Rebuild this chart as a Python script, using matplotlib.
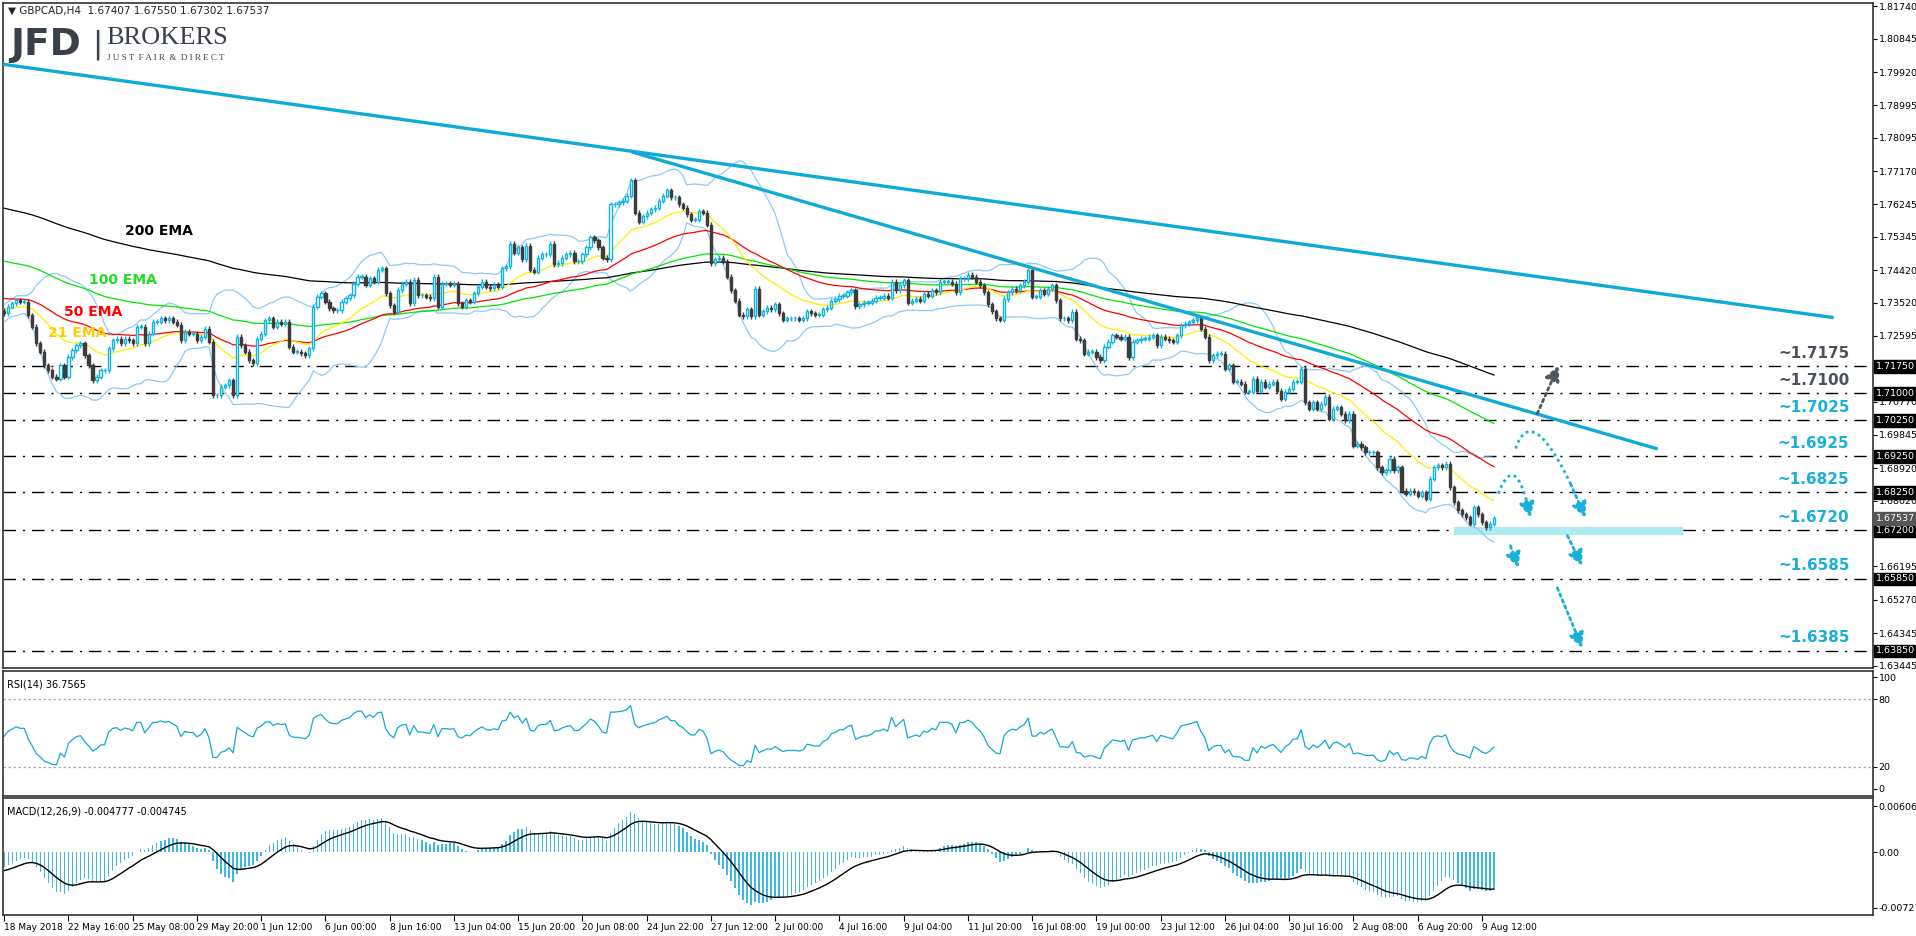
import numpy as np
import matplotlib.pyplot as plt

# GBPCAD H4 closes (one per bar)
closes = [
    1.7322, 1.7341, 1.7350, 1.7359, 1.7354, 1.7354, 1.7317, 1.7285, 1.7239, 1.7215,
    1.7178, 1.7164, 1.7146, 1.7141, 1.7178, 1.7146, 1.7201, 1.7220, 1.7234, 1.7239,
    1.7206, 1.7178, 1.7137, 1.7146, 1.7164, 1.7164, 1.7225, 1.7248, 1.7252, 1.7239,
    1.7252, 1.7248, 1.7239, 1.7285, 1.7285, 1.7239, 1.7266, 1.7299, 1.7299, 1.7308,
    1.7303, 1.7308, 1.7299, 1.7290, 1.7248, 1.7271, 1.7266, 1.7266, 1.7248, 1.7257,
    1.7280, 1.7243, 1.7095, 1.7095, 1.7118, 1.7123, 1.7137, 1.7095, 1.7257, 1.7234,
    1.7215, 1.7192, 1.7183, 1.7252, 1.7266, 1.7303, 1.7308, 1.7285, 1.7299, 1.7294,
    1.7299, 1.7229, 1.7215, 1.7215, 1.7211, 1.7206, 1.7225, 1.7341, 1.7368, 1.7378,
    1.7354, 1.7336, 1.7331, 1.7331, 1.7354, 1.7364, 1.7373, 1.7405, 1.7424, 1.7424,
    1.7401, 1.7419, 1.7410, 1.7443, 1.7447, 1.7378, 1.7345, 1.7327, 1.7387, 1.7405,
    1.7410, 1.7350, 1.7415, 1.7373, 1.7373, 1.7368, 1.7364, 1.7424, 1.7341, 1.7405,
    1.7405, 1.7401, 1.7405, 1.7350, 1.7341, 1.7359, 1.7354, 1.7378, 1.7396, 1.7410,
    1.7396, 1.7392, 1.7401, 1.7396, 1.7448, 1.7453, 1.7515, 1.7491, 1.7505, 1.7472,
    1.7510, 1.7443, 1.7438, 1.7477, 1.7486, 1.7486, 1.7515, 1.7458, 1.7462, 1.7477,
    1.7486, 1.7491, 1.7467, 1.7467, 1.7486, 1.7505, 1.7534, 1.7525, 1.7505, 1.7477,
    1.7472, 1.7625, 1.7625, 1.7630, 1.7635, 1.7649, 1.7692, 1.7601, 1.7577, 1.7592,
    1.7601, 1.7611, 1.7616, 1.7635, 1.7649, 1.7664, 1.7645, 1.7645, 1.7625, 1.7616,
    1.7597, 1.7582, 1.7582, 1.7606, 1.7601, 1.7568, 1.7462, 1.7472, 1.7477, 1.7467,
    1.7424, 1.7386, 1.7357, 1.7318, 1.7314, 1.7333, 1.7314, 1.7390, 1.7318, 1.7328,
    1.7338, 1.7333, 1.7347, 1.7323, 1.7304, 1.7309, 1.7309, 1.7309, 1.7304, 1.7309,
    1.7328, 1.7323, 1.7318, 1.7318, 1.7333, 1.7338, 1.7357, 1.7362, 1.7371, 1.7371,
    1.7381, 1.7386, 1.7342, 1.7347, 1.7352, 1.7352, 1.7357, 1.7366, 1.7366, 1.7371,
    1.7366, 1.7410, 1.7386, 1.7400, 1.7414, 1.7352, 1.7357, 1.7362, 1.7357, 1.7376,
    1.7371, 1.7386, 1.7381, 1.7410, 1.7410, 1.7410, 1.7405, 1.7381, 1.7419, 1.7419,
    1.7429, 1.7424, 1.7410, 1.7400, 1.7381, 1.7347, 1.7328, 1.7309, 1.7304, 1.7362,
    1.7381, 1.7390, 1.7386, 1.7400, 1.7410, 1.7442, 1.7368, 1.7368, 1.7386, 1.7377,
    1.7391, 1.7400, 1.7359, 1.7308, 1.7308, 1.7303, 1.7326, 1.7252, 1.7247, 1.7210,
    1.7215, 1.7215, 1.7201, 1.7192, 1.7229, 1.7243, 1.7261, 1.7257, 1.7252, 1.7257,
    1.7201, 1.7243, 1.7247, 1.7252, 1.7252, 1.7257, 1.7261, 1.7234, 1.7257, 1.7252,
    1.7247, 1.7243, 1.7261, 1.7289, 1.7294, 1.7298, 1.7303, 1.7308, 1.7280, 1.7257,
    1.7192, 1.7206, 1.7210, 1.7210, 1.7169, 1.7178, 1.7132, 1.7132, 1.7127, 1.7104,
    1.7104, 1.7141, 1.7108, 1.7132, 1.7118, 1.7127, 1.7132, 1.7108, 1.7085, 1.7104,
    1.7113, 1.7132, 1.7132, 1.7169, 1.7076, 1.7057, 1.7076, 1.7057, 1.7071, 1.7090,
    1.7030, 1.7057, 1.7062, 1.7043, 1.7025, 1.7043, 1.6955, 1.6960, 1.6951, 1.6937,
    1.6937, 1.6937, 1.6895, 1.6881, 1.6886, 1.6918, 1.6886, 1.6895, 1.6830, 1.6821,
    1.6830, 1.6826, 1.6816, 1.6826, 1.6807, 1.6863, 1.6895, 1.6900, 1.6895, 1.6904,
    1.6840, 1.6798, 1.6775, 1.6765, 1.6756, 1.6738, 1.6784, 1.6765, 1.6742, 1.6728,
    1.6738, 1.6754,
]
first_open = 1.7330
last_price = 1.67537
wick = 0.0007

date_labels = ["18 May 2018", "22 May 16:00", "25 May 08:00", "29 May 20:00", "1 Jun 12:00",
               "6 Jun 00:00", "8 Jun 16:00", "13 Jun 04:00", "15 Jun 20:00", "20 Jun 08:00",
               "24 Jun 22:00", "27 Jun 12:00", "2 Jul 00:00", "4 Jul 16:00", "9 Jul 04:00",
               "11 Jul 20:00", "16 Jul 08:00", "19 Jul 00:00", "23 Jul 12:00", "26 Jul 04:00",
               "30 Jul 16:00", "2 Aug 08:00", "6 Aug 20:00", "9 Aug 12:00"]

price_ticks = [1.81740, 1.80845, 1.79920, 1.78995, 1.78095, 1.77170, 1.76245, 1.75345,
               1.74420, 1.73520, 1.72595, 1.71670, 1.70770, 1.69845, 1.68920, 1.68020,
               1.67095, 1.66195, 1.65270, 1.64345, 1.63445]

# support / resistance levels and label colours
levels = [1.7175, 1.7100, 1.7025, 1.6925, 1.6825, 1.6720, 1.6585, 1.6385]
level_colors = ["#4a525c", "#4a525c", "#1aaedb", "#1aaedb", "#1aaedb", "#1aaedb", "#1aaedb", "#1aaedb"]

# trendlines: (bar, price) anchors
trend_upper = [(-0.5, 1.8014), (455.2, 1.7311)]
trend_lower = [(156.7, 1.7769), (411.4, 1.6947)]

# indicator seeds (value of each EMA at chart start) and label spots (bar, price)
ema_seeds = {200: 1.7617, 100: 1.7470, 50: 1.7365, 21: 1.7335}
ema_colors = {200: "black", 100: "#00e600", 50: "red", 21: "#ffee00"}
ema_label_pos = {200: (30, 1.7550), 100: (21, 1.7416), 50: (15, 1.7327), 21: (11, 1.7269)}
ema_label_colors = {200: "black", 100: "#22dd22", 50: "red", 21: "#ffcc00"}

# ---------------------------------------------------------------
c = np.array(closes)
n = len(c)
o = np.concatenate([[first_open], c[:-1]])
hi = np.maximum(o, c) + wick
lo = np.minimum(o, c) - wick
x = np.arange(n)


def ema(vals, period, seed):
    k = 2.0 / (period + 1)
    out = []
    prev = seed
    for v in vals:
        prev = prev + k * (v - prev)
        out.append(prev)
    return np.array(out)


emas = {p: ema(c, p, s) for p, s in ema_seeds.items()}

# Bollinger 20,2
mid = np.array([c[max(0, i - 19):i + 1].mean() for i in range(n)])
sd = np.array([c[max(0, i - 19):i + 1].std() if i > 0 else 0.001 for i in range(n)])
sd = np.maximum(sd, 0.0012)
bb_up, bb_lo = mid + 2 * sd, mid - 2 * sd

# RSI 14
d = np.diff(c, prepend=c[0])
g, l = np.clip(d, 0, None), np.clip(-d, 0, None)
ag, al = 0.0008, 0.0009
rsi = []
for i in range(n):
    ag = (ag * 13 + g[i]) / 14
    al = (al * 13 + l[i]) / 14
    rsi.append(100 - 100 / (1 + ag / al))
rsi = np.array(rsi)

# MACD 12,26,9
macd = ema(c, 12, 1.7330) - ema(c, 26, 1.7350)
signal = ema(macd, 9, -0.0025)

# ---------------------------------------------------------------
W, H = 1916, 936
fig = plt.figure(figsize=(W / 100, H / 100), dpi=100)
fig.patch.set_facecolor("white")


def px_axes(x0, y0, x1, y1):
    return fig.add_axes([x0 / W, 1 - y1 / H, (x1 - x0) / W, (y1 - y0) / H])


ax = px_axes(3, 3, 1873, 668)
ax_rsi = px_axes(3, 671, 1873, 796)
ax_macd = px_axes(3, 798, 1873, 915)

xlim = (-0.3, 465.4)
for a in (ax, ax_rsi, ax_macd):
    a.set_xlim(*xlim)
    a.yaxis.tick_right()
    a.tick_params(axis="y", labelsize=6.8, length=3, pad=1)
    a.set_xticks([])
    for s in a.spines.values():
        s.set_color("#333333")
        s.set_linewidth(1.2)

ax.set_ylim(1.63377, 1.81837)

# levels
for lv, col in zip(levels, level_colors):
    ax.axhline(lv, color="black", lw=1.0, linestyle=(0, (9, 5, 1.5, 5)), zorder=1)
    ax.annotate("~%.4f" % lv, xy=(1.0, lv), xycoords=("axes fraction", "data"),
                xytext=(-17, 4), textcoords="offset points", ha="right", va="bottom",
                fontsize=11, fontweight="bold", color=col)

# support band
ax.fill_between([361, 418], 1.6706, 1.6730, color="#aeeaf0", zorder=2, lw=0)

# Bollinger and EMAs
ax.plot(x, bb_up, color="#8ccaf5", lw=0.9, zorder=3)
ax.plot(x, bb_lo, color="#8ccaf5", lw=0.9, zorder=3)
for p in (200, 100, 50, 21):
    ax.plot(x, emas[p], color=ema_colors[p], lw=0.9, zorder=3)

# candles
bull = c >= o
ax.vlines(x[bull], lo[bull], hi[bull], color="#10b4e0", lw=1, zorder=4)
ax.vlines(x[~bull], lo[~bull], hi[~bull], color="#3c3c3c", lw=1, zorder=4)
body = np.maximum(np.abs(c - o), 0.00015)
ax.bar(x[bull], body[bull], bottom=o[bull], width=0.55, facecolor="white",
       edgecolor="#10b4e0", lw=1, zorder=5)
ax.bar(x[~bull], body[~bull], bottom=c[~bull], width=0.55, facecolor="#3c3c3c",
       edgecolor="#3c3c3c", lw=1, zorder=5)

# trendlines
for tl in (trend_upper, trend_lower):
    ax.plot([tl[0][0], tl[1][0]], [tl[0][1], tl[1][1]], color="#10aad8", lw=2.4, zorder=6)

# scenario arrows
cy, gy = "#1ab0dc", "#505860"
dotted = (0, (1, 1.3))


def head(p0, p1, col):
    ax.annotate("", xy=p1, xytext=p0,
                arrowprops=dict(arrowstyle="-|>,head_length=0.9,head_width=0.45", color=col,
                                lw=2, linestyle=dotted, shrinkA=0, shrinkB=0), zorder=7)


def curve(p0, pc, p1, col):
    t = np.linspace(0, 1, 40)[:, None]
    a, b, e = np.array(p0), np.array(pc), np.array(p1)
    pts = (1 - t) ** 2 * a + 2 * (1 - t) * t * b + t ** 2 * e
    ax.plot(pts[:-6, 0], pts[:-6, 1], color=col, lw=2, linestyle=dotted, zorder=7)
    head(tuple(pts[-7]), p1, col)


curve((372.1, 1.6822), (376.5, 1.6950), (380.1, 1.6755), cy)
head((375.1, 1.6677), (377.1, 1.6616), cy)
curve((376.4, 1.6947), (381.0, 1.7100), (393.8, 1.6755), cy)
head((381.8, 1.7044), (387.1, 1.7177), gy)
head((389.3, 1.6705), (393.0, 1.6621), cy)
head((386.8, 1.6560), (393.0, 1.6393), cy)

# right axis ticks and boxed labels
ax.set_yticks(price_ticks)
ax.set_yticklabels(["%.5f" % t for t in price_ticks])
for lv in levels:
    ax.text(1.0015, lv, "%.5f" % lv, transform=ax.get_yaxis_transform(), fontsize=6.8,
            color="white", va="center", ha="left",
            bbox=dict(boxstyle="square,pad=0.2", fc="black", ec="black"))
ax.text(1.0015, last_price, "%.5f" % last_price, transform=ax.get_yaxis_transform(),
        fontsize=6.8, color="white", va="center", ha="left",
        bbox=dict(boxstyle="square,pad=0.2", fc="#555555", ec="#555555"))

# EMA labels
for p, (bx, by) in ema_label_pos.items():
    ax.text(bx, by, "%d EMA" % p, fontsize=10, fontweight="bold",
            color=ema_label_colors[p], va="center", zorder=8)

# header + logo
fig.text(8 / W, 1 - 11 / H, "\u25bc GBPCAD,H4  1.67407 1.67550 1.67302 1.67537",
         fontsize=7.5, va="center", color="#222222")
fig.text(10 / W, 1 - 45 / H, "JFD", fontsize=27, fontweight="bold", color="#3a4049",
         va="center", family="DejaVu Sans")
fig.text(92 / W, 1 - 45 / H, "|", fontsize=22, color="#3a4049", va="center")
fig.text(106 / W, 1 - 38 / H, "BROKERS", fontsize=19, color="#3a4049", va="center",
         family="Liberation Serif")
fig.text(107 / W, 1 - 58 / H, "J U S T  F A I R  &  D I R E C T", fontsize=6.5,
         color="#3a4049", va="center", family="Liberation Serif")

# RSI panel
ax_rsi.set_ylim(-6.3, 105.4)
ax_rsi.plot(x, rsi, color="#10aad8", lw=0.9)
for lv in (80, 20):
    ax_rsi.axhline(lv, color="#aaaaaa", lw=0.9, linestyle=(0, (2, 2)))
ax_rsi.set_yticks([100, 80, 20, 0])
ax_rsi.text(0.002, 0.93, "RSI(14) 36.7565", transform=ax_rsi.transAxes, fontsize=7, va="top")

# MACD panel
ax_macd.set_ylim(-0.00819, 0.00711)
ax_macd.bar(x, macd, width=0.35, color="#40b8e0")
ax_macd.plot(x, signal, color="black", lw=1)
ax_macd.set_yticks([0.00606, 0.0, -0.007271])
ax_macd.set_yticklabels(["0.00606", "0.00", "-0.007271"])
ax_macd.text(0.002, 0.93, "MACD(12,26,9) -0.004777 -0.004745", transform=ax_macd.transAxes,
             fontsize=7, va="top")

# date axis
ax_macd.set_xticks(np.arange(len(date_labels)) * 16)
ax_macd.set_xticklabels(date_labels, fontsize=6.5, ha="left")
ax_macd.tick_params(axis="x", length=4, pad=2)

fig.savefig("out.png", dpi=100)
